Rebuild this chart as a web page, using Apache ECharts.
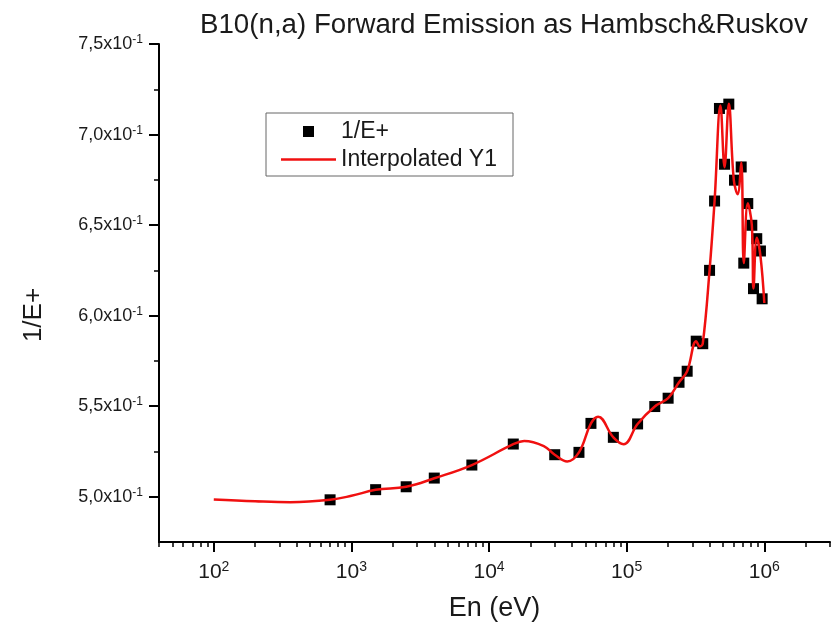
<!DOCTYPE html>
<html>
<head>
<meta charset="utf-8">
<script src="https://cdn.jsdelivr.net/npm/echarts@6/dist/echarts.min.js"></script>
<style>
  html, body { margin: 0; padding: 0; background: #fff; }
  #chart { width: 839px; height: 631px; }
</style>
</head>
<body>
<div id="chart"></div>
<script>
// measured points (1/E+)
const enX = [700, 1500, 2500, 4000, 7500, 15000, 30000, 45000, 55000, 80000,
  120000, 160000, 200000, 240000, 275000, 320000, 357000, 400000, 435000, 472000,
  514000, 552000, 607000, 679000, 709000, 758000, 811000, 834000, 881000, 937000, 964000]
const enY = [0.4983, 0.5039, 0.5055, 0.5103, 0.5175, 0.5291, 0.5232, 0.5245, 0.5405, 0.5328,
  0.5402, 0.5498, 0.5544, 0.5632, 0.5693, 0.5859, 0.5845, 0.6250, 0.6633, 0.7144,
  0.6836, 0.7168, 0.6748, 0.6821, 0.6290, 0.6619, 0.6499, 0.6149, 0.6425, 0.6357, 0.6093]

// interpolated curve
const fitX = [100, 200, 360, 700, 1000, 1500, 2500, 4000, 7500, 15000,
  18000, 25000, 30000, 37000, 45000, 55000, 62000, 80000, 95000, 120000,
  160000, 200000, 240000, 275000, 320000, 340000, 357000, 400000, 435000, 480000,
  514000, 552000, 600000, 640000, 680000, 709000, 758000, 811000, 834000, 881000,
  937000, 1000000]
const fitY = [0.4985, 0.4975, 0.4970, 0.4983, 0.5005, 0.5038, 0.5055, 0.5102, 0.5175, 0.5290,
  0.5308, 0.5280, 0.5232, 0.5195, 0.5245, 0.5405, 0.5442, 0.5328, 0.5290, 0.5402,
  0.5498, 0.5544, 0.5632, 0.5693, 0.5859, 0.5830, 0.5845, 0.6250, 0.6633, 0.7160,
  0.6820, 0.7170, 0.6750, 0.6670, 0.6845, 0.6290, 0.6620, 0.6500, 0.6150, 0.6430,
  0.6330, 0.6070]

const xMajor = [100, 1e3, 1e4, 1e5, 1e6]
const xMinor = [40, 50, 60, 70, 80, 90,
  200, 300, 400, 500, 600, 700, 800, 900,
  2000, 3000, 4000, 5000, 6000, 7000, 8000, 9000,
  2e4, 3e4, 4e4, 5e4, 6e4, 7e4, 8e4, 9e4,
  2e5, 3e5, 4e5, 5e5, 6e5, 7e5, 8e5, 9e5,
  2e6, 3e6]
const yMajor = [0.50, 0.55, 0.60, 0.65, 0.70, 0.75]
const yMinor = [0.525, 0.575, 0.625, 0.675, 0.725]

const font = 'Liberation Sans, Arial, sans-serif'
const ink = '#1a1a1a'
const red = '#f01010'

const chart = echarts.init(document.getElementById('chart'))

const axisLine = { show: true, onZero: false, lineStyle: { color: '#000', width: 2 } }

const option = {
  animation: false,
  backgroundColor: '#fff',
  textStyle: { fontFamily: font },
  title: {
    text: 'B10(n,a) Forward Emission as Hambsch&Ruskov',
    left: 195,
    top: 6,
    textStyle: { fontFamily: font, fontSize: 27.7, fontWeight: 'normal', color: ink },
  },
  legend: {
    orient: 'vertical',
    left: 266,
    top: 113,
    padding: [7, 16, 5, 15],
    itemGap: 5,
    itemWidth: 55,
    itemHeight: 11,
    borderColor: '#666',
    borderWidth: 1,
    textStyle: { fontFamily: font, fontSize: 23, color: ink },
    data: [
      { name: '1/E+', icon: 'path://M0,0h10v10h-10z' },
      { name: 'Interpolated Y1', icon: 'path://M0,0h55v2.5h-55z' },
    ],
  },
  grid: { left: 159, right: 9, top: 44, bottom: 89 },
  xAxis: [
    {
      type: 'log',
      logBase: 10,
      min: 40,
      max: 3e6,
      position: 'bottom',
      name: 'En (eV)',
      nameLocation: 'middle',
      nameGap: 53,
      nameTextStyle: { fontFamily: font, fontSize: 27, color: ink },
      axisLine: axisLine,
      axisTick: { show: true, inside: false, length: 10, customValues: xMajor,
        lineStyle: { color: '#000', width: 2 } },
      minorTick: { show: false },
      splitLine: { show: false },
      axisLabel: {
        customValues: xMajor,
        margin: 18,
        formatter: (v) => '{b|10}{s|' + Math.round(Math.log10(v)) + '}',
        rich: {
          b: { fontFamily: font, fontSize: 21, color: ink, lineHeight: 24 },
          s: { fontFamily: font, fontSize: 14, color: ink, verticalAlign: 'top', lineHeight: 14 },
        },
      },
    },
    {
      type: 'log',
      logBase: 10,
      min: 40,
      max: 3e6,
      position: 'bottom',
      axisLine: { show: false },
      axisTick: { show: true, inside: false, length: 5, customValues: xMinor,
        lineStyle: { color: '#000', width: 1.5 } },
      axisLabel: { show: false },
      splitLine: { show: false },
    },
  ],
  yAxis: [
    {
      type: 'value',
      min: 0.475,
      max: 0.75,
      position: 'left',
      name: '1/E+',
      nameLocation: 'middle',
      nameGap: 112,
      nameTextStyle: { fontFamily: font, fontSize: 26, color: ink, padding: [0, 44, 0, 0] },
      axisLine: axisLine,
      axisTick: { show: true, inside: false, length: 10, customValues: yMajor,
        lineStyle: { color: '#000', width: 2 } },
      splitLine: { show: false },
      axisLabel: {
        customValues: yMajor,
        margin: 16,
        formatter: (v) => '{b|' + (v * 10).toFixed(1).replace('.', ',') + 'x10}{s|-1}',
        rich: {
          b: { fontFamily: font, fontSize: 18, color: ink, lineHeight: 20 },
          s: { fontFamily: font, fontSize: 12, color: ink, verticalAlign: 'top', lineHeight: 12 },
        },
      },
    },
    {
      type: 'value',
      min: 0.475,
      max: 0.75,
      position: 'left',
      axisLine: { show: false },
      axisTick: { show: true, inside: false, length: 5, customValues: yMinor,
        lineStyle: { color: '#000', width: 1.5 } },
      axisLabel: { show: false },
      splitLine: { show: false },
    },
  ],
  series: [
    {
      name: '1/E+',
      type: 'scatter',
      symbol: 'rect',
      symbolSize: 11,
      itemStyle: { color: '#000', opacity: 1 },
      z: 2,
      data: enX.map((x, i) => [x, enY[i]]),
    },
    {
      name: 'Interpolated Y1',
      type: 'line',
      smooth: 0.4,
      symbol: 'none',
      showSymbol: false,
      lineStyle: { color: red, width: 2.5 },
      itemStyle: { color: red },
      z: 3,
      data: fitX.map((x, i) => [x, fitY[i]]),
    },
  ],
}

chart.setOption(option)
</script>
</body>
</html>
